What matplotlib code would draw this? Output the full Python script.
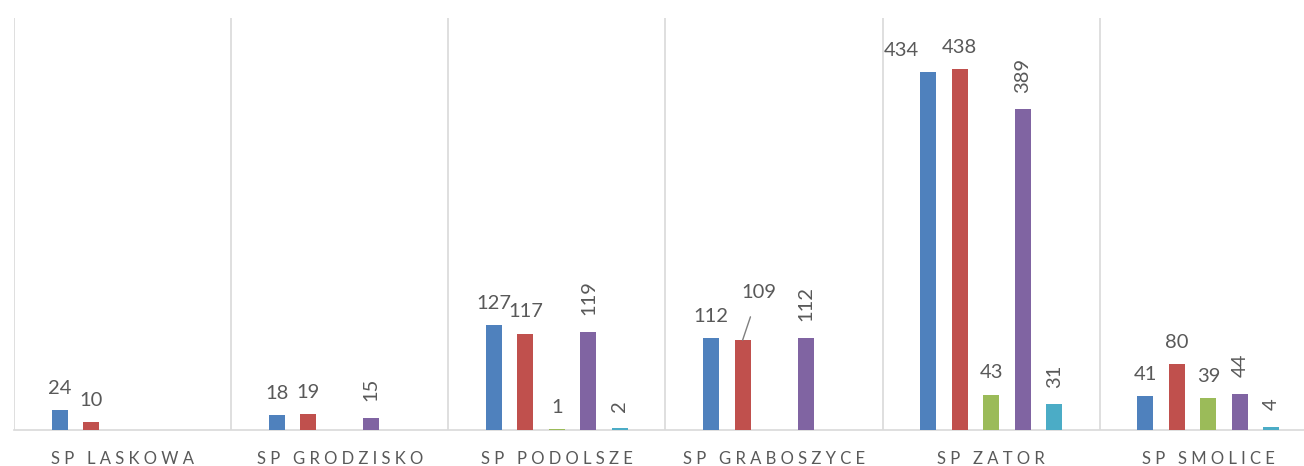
import numpy as np
import matplotlib.pyplot as plt

plt.rcParams['font.family'] = ['Lato', 'DejaVu Sans']

schools = ['SP LASKOWA', 'SP GRODZISKO', 'SP PODOLSZE', 'SP GRABOSZYCE', 'SP ZATOR', 'SP SMOLICE']
blue = [24, 18, 127, 112, 434, 41]
red = [10, 19, 117, 109, 438, 80]
green = [None, None, 1, None, 43, 39]
purple = [None, 15, 119, 112, 389, 44]
cyan = [None, None, 2, None, 31, 4]

series = [blue, red, green, purple, cyan]
colors = ['#4F81BD', '#C0504D', '#9BBB59', '#8064A2', '#4BACC6']
vertical = [False, False, False, True, True]

fig = plt.figure(figsize=(13.04, 4.66), dpi=100)
ax = fig.add_axes([14 / 1304, 1 - 430 / 466, 1303 / 1304, 412 / 466])

x = np.arange(len(schools))
step = 0.145
width = 0.074
for i, (vals, c, vert) in enumerate(zip(series, colors, vertical)):
    off = (i - 2) * step
    for j, v in enumerate(vals):
        if v is None:
            continue
        ax.bar(x[j] + off, v, width=width, color=c, zorder=3)
        if schools[j] == 'SP GRABOSZYCE' and i == 1:
            # label moved up with a leader line, like in the original
            ax.annotate(str(v), xy=(x[j] + off, v), xytext=(x[j] + off + 0.074, v + 58),
                        ha='center', va='center', fontsize=14.5, color='#595959',
                        arrowprops=dict(arrowstyle='-', color='#7f7f7f', lw=1,
                                        shrinkA=10, shrinkB=0))
            continue
        if vert:
            ax.annotate(str(v), (x[j] + off, v), xytext=(0, 12), textcoords='offset points',
                        ha='center', va='bottom', rotation=90, fontsize=14.5, color='#595959')
        else:
            dx = -19 if (schools[j] == 'SP ZATOR' and i == 0) else 0  # pushed left to not hit 438
            ax.annotate(str(v), (x[j] + off, v), xytext=(dx, 9.5), textcoords='offset points',
                        ha='center', va='bottom', fontsize=14.5, color='#595959')

ax.set_xlim(-0.5, len(schools) - 0.5)
ax.set_ylim(0, 500)
for b in np.arange(-0.5, len(schools), 1.0):
    ax.axvline(b, color='#d9d9d9', lw=1.2, zorder=1)

ax.set_xticks(x)
ax.set_xticklabels([' '.join(s) for s in schools], fontsize=12, color='#595959')
ax.tick_params(axis='x', length=0, pad=15)
ax.set_yticks([])
for s in ['left', 'right', 'top']:
    ax.spines[s].set_visible(False)
ax.spines['bottom'].set_color('#d9d9d9')
ax.spines['bottom'].set_linewidth(1.2)

fig.savefig('out.png', dpi=100)
